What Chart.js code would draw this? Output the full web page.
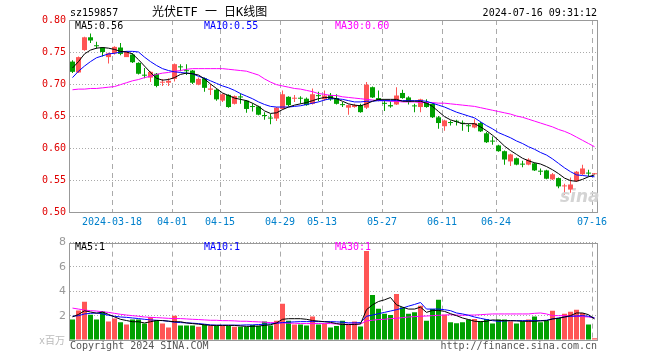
<!DOCTYPE html>
<html><head><meta charset="utf-8">
<script src="https://cdn.jsdelivr.net/npm/chart.js@4.4.1/dist/chart.umd.min.js"></script>
<style>
html,body{margin:0;padding:0;background:#fff;}
#wrap{position:relative;width:660px;height:360px;overflow:hidden;background:#fff;}
canvas{position:absolute;left:0;}
.t{position:absolute;white-space:pre;font-family:"DejaVu Sans Mono",monospace;font-size:10px;line-height:10px;}
</style></head><body>
<div id="wrap">
<canvas id="k" width="660" height="232" style="top:0px"></canvas>
<canvas id="v" width="660" height="128" style="top:232px"></canvas>
<div class="t" style="left:70px;top:8px;color:#000;">sz159857</div>
<div class="t" style="left:152px;top:6px;font-size:12px;line-height:12px;font-family:'DejaVu Sans Mono','Noto Sans CJK SC',sans-serif;color:#000;">光伏ETF 一 日K线图</div>
<div class="t" style="right:63px;top:8px;color:#000;">2024-07-16 09:31:12</div>
<div class="t" style="left:75px;top:21px;color:#000;">MA5:0.56</div>
<div class="t" style="left:204px;top:21px;color:#0000ff;">MA10:0.55</div>
<div class="t" style="left:335px;top:21px;color:#ff00ff;">MA30:0.60</div>
<div class="t" style="left:75px;top:242px;color:#000;">MA5:1</div>
<div class="t" style="left:204px;top:242px;color:#0000ff;">MA10:1</div>
<div class="t" style="left:335px;top:242px;color:#ff00ff;">MA30:1</div>
<div class="t" style="left:39px;top:336px;color:#bbb;font-family:'DejaVu Sans Mono','Noto Sans CJK SC',sans-serif;">x百万</div>
<div class="t" style="left:70px;top:341px;color:#555;">Copyright 2024 SINA.COM</div>
<div class="t" style="right:63px;top:341px;color:#555;">http://finance.sina.com.cn</div>
<div class="t" style="left:560px;top:188px;color:#d4d4d4;font-family:'DejaVu Sans',sans-serif;font-size:17px;line-height:17px;font-style:italic;font-weight:bold;">sina</div>
</div>
<script>
const dateTickIdx = [7,17,25,35,42,52,62,71,87];
const dateTickLabels = ['2024-03-18','04-01','04-15','04-29','05-13','05-27','06-11','06-24','07-16'];
const priceTicks = [0.50,0.55,0.60,0.65,0.70,0.75,0.80];
const volTicks = [0,2,4,6,8];

const opens = [
0.735,0.718,0.753,0.773,0.760,0.757,0.742,0.748,0.757,0.742,
0.746,0.733,0.714,0.710,0.716,0.702,0.702,0.708,0.727,0.721,
0.721,0.699,0.709,0.691,0.691,0.674,0.683,0.669,0.680,0.674,
0.665,0.665,0.651,0.647,0.646,0.661,0.680,0.677,0.678,0.677,
0.669,0.682,0.676,0.683,0.678,0.668,0.663,0.664,0.667,0.663,
0.695,0.678,0.670,0.667,0.668,0.686,0.679,0.666,0.664,0.672,
0.669,0.648,0.634,0.640,0.642,0.639,0.635,0.632,0.639,0.623,
0.611,0.604,0.595,0.579,0.584,0.575,0.574,0.576,0.564,0.565,
0.551,0.553,0.540,0.535,0.548,0.559,0.561,0.559];
const closes = [
0.719,0.742,0.773,0.768,0.759,0.750,0.748,0.758,0.747,0.750,
0.734,0.716,0.713,0.719,0.697,0.703,0.705,0.731,0.726,0.720,
0.702,0.708,0.694,0.693,0.676,0.684,0.664,0.681,0.679,0.661,
0.664,0.652,0.650,0.646,0.663,0.684,0.667,0.678,0.677,0.667,
0.684,0.681,0.682,0.676,0.669,0.667,0.667,0.667,0.656,0.699,
0.679,0.675,0.669,0.665,0.682,0.678,0.672,0.665,0.676,0.664,
0.648,0.639,0.643,0.639,0.641,0.638,0.634,0.639,0.626,0.609,
0.610,0.595,0.582,0.590,0.574,0.574,0.582,0.565,0.563,0.552,
0.559,0.540,0.541,0.543,0.563,0.568,0.560,0.560];
const highs = [
0.737,0.743,0.774,0.779,0.766,0.758,0.749,0.759,0.764,0.751,
0.748,0.734,0.725,0.720,0.717,0.708,0.709,0.732,0.731,0.731,
0.722,0.710,0.710,0.700,0.693,0.685,0.684,0.682,0.685,0.675,
0.670,0.666,0.656,0.653,0.664,0.690,0.681,0.683,0.681,0.679,
0.693,0.688,0.690,0.686,0.684,0.672,0.668,0.669,0.669,0.703,
0.696,0.690,0.676,0.673,0.695,0.691,0.681,0.669,0.677,0.676,
0.670,0.650,0.644,0.643,0.644,0.643,0.638,0.645,0.641,0.625,
0.618,0.605,0.596,0.591,0.585,0.580,0.584,0.577,0.568,0.566,
0.561,0.554,0.544,0.554,0.564,0.574,0.566,0.561];
const lows = [
0.717,0.717,0.752,0.764,0.755,0.743,0.732,0.746,0.745,0.742,
0.733,0.715,0.709,0.703,0.695,0.697,0.697,0.704,0.720,0.714,
0.700,0.698,0.688,0.683,0.674,0.672,0.663,0.668,0.669,0.655,
0.657,0.651,0.644,0.637,0.642,0.660,0.665,0.672,0.669,0.666,
0.668,0.673,0.674,0.674,0.668,0.664,0.652,0.663,0.655,0.661,
0.678,0.673,0.658,0.663,0.667,0.677,0.668,0.656,0.656,0.663,
0.647,0.630,0.627,0.635,0.635,0.627,0.625,0.631,0.625,0.608,
0.605,0.594,0.574,0.572,0.573,0.570,0.573,0.564,0.558,0.551,
0.550,0.537,0.527,0.530,0.547,0.558,0.556,0.559];
const ma5 = [
0.725,0.735,0.747,0.753,0.756,0.757,0.756,0.754,0.751,0.750,
0.747,0.738,0.728,0.718,0.709,0.706,0.707,0.710,0.715,0.717,
0.716,0.714,0.708,0.700,0.693,0.686,0.682,0.678,0.676,0.674,
0.670,0.665,0.658,0.654,0.655,0.660,0.664,0.667,0.669,0.671,
0.674,0.677,0.679,0.679,0.677,0.673,0.669,0.667,0.666,0.669,
0.673,0.676,0.676,0.676,0.676,0.673,0.673,0.673,0.673,0.670,
0.665,0.657,0.649,0.644,0.641,0.638,0.638,0.638,0.633,0.627,
0.620,0.612,0.603,0.596,0.590,0.584,0.580,0.577,0.575,0.571,
0.566,0.560,0.553,0.549,0.548,0.551,0.555,0.558];
const ma10 = [
0.710,0.720,0.728,0.735,0.741,0.744,0.747,0.748,0.750,0.751,
0.751,0.750,0.742,0.735,0.729,0.724,0.721,0.719,0.718,0.717,
0.716,0.712,0.709,0.705,0.701,0.697,0.694,0.690,0.685,0.681,
0.677,0.672,0.668,0.665,0.664,0.664,0.664,0.665,0.666,0.668,
0.670,0.672,0.675,0.677,0.677,0.676,0.674,0.672,0.672,0.673,
0.673,0.674,0.674,0.674,0.674,0.674,0.674,0.674,0.674,0.673,
0.670,0.667,0.664,0.660,0.656,0.653,0.650,0.647,0.641,0.635,
0.630,0.624,0.620,0.616,0.611,0.607,0.602,0.598,0.593,0.589,
0.583,0.576,0.569,0.563,0.558,0.557,0.556,0.555];
const ma30 = [
0.691,0.692,0.692,0.693,0.693,0.694,0.695,0.696,0.699,0.702,
0.705,0.707,0.710,0.712,0.715,0.717,0.718,0.720,0.721,0.723,
0.724,0.724,0.724,0.724,0.724,0.724,0.723,0.722,0.721,0.720,
0.717,0.714,0.708,0.703,0.699,0.697,0.695,0.693,0.692,0.690,
0.688,0.685,0.684,0.682,0.682,0.680,0.679,0.678,0.677,0.676,
0.675,0.674,0.674,0.673,0.673,0.672,0.672,0.672,0.671,0.671,
0.671,0.670,0.670,0.669,0.668,0.667,0.666,0.665,0.663,0.661,
0.659,0.657,0.655,0.653,0.650,0.648,0.645,0.642,0.639,0.636,
0.633,0.629,0.626,0.622,0.617,0.612,0.607,0.602];
const volumes = [
1.68,2.43,3.14,2.08,1.68,2.35,1.51,1.76,1.46,1.27,
1.68,1.68,1.35,1.89,1.62,1.35,1.03,2.00,1.19,1.19,
1.19,1.08,1.27,1.14,1.19,1.19,1.14,1.08,1.08,1.08,
1.24,1.14,1.51,1.19,1.59,2.97,1.59,1.27,1.27,1.19,
1.92,1.27,1.35,1.03,1.14,1.59,1.27,1.51,1.11,7.30,
3.70,2.57,2.16,2.05,3.78,2.68,2.16,2.27,2.81,1.59,
2.54,3.30,2.08,1.46,1.38,1.46,1.68,1.73,1.54,1.73,
1.35,1.68,1.68,1.54,1.35,1.54,1.68,1.92,1.46,1.59,
2.41,1.81,2.16,2.32,2.49,2.22,1.27,0.14];
const volMa5 = [
1.90,2.10,2.40,2.30,2.20,2.30,2.10,1.90,1.70,1.60,
1.50,1.50,1.40,1.50,1.60,1.60,1.55,1.50,1.50,1.40,
1.35,1.30,1.25,1.20,1.20,1.20,1.20,1.20,1.15,1.12,
1.12,1.15,1.20,1.25,1.40,1.70,1.75,1.75,1.75,1.70,
1.60,1.55,1.50,1.45,1.35,1.27,1.27,1.27,1.32,2.49,
2.89,3.16,3.30,3.49,2.89,2.70,2.54,2.54,2.70,2.27,
2.43,2.43,2.35,2.16,2.00,1.81,1.68,1.54,1.51,1.54,
1.65,1.62,1.59,1.59,1.57,1.54,1.54,1.54,1.57,1.59,
1.73,1.78,1.89,2.00,2.22,2.22,2.08,1.73];
const volMa10 = [
1.95,2.00,2.14,2.19,2.22,2.14,2.03,1.95,1.89,1.86,
1.81,1.76,1.70,1.65,1.62,1.59,1.54,1.46,1.43,1.41,
1.38,1.35,1.30,1.24,1.22,1.22,1.22,1.22,1.22,1.24,
1.24,1.27,1.30,1.32,1.38,1.43,1.46,1.49,1.51,1.51,
1.51,1.51,1.51,1.51,1.49,1.46,1.41,1.41,1.43,1.95,
2.05,2.16,2.27,2.38,2.49,2.62,2.78,2.92,3.08,2.54,
2.54,2.54,2.49,2.41,2.22,2.14,2.03,1.89,1.78,1.68,
1.59,1.54,1.57,1.59,1.59,1.59,1.59,1.59,1.59,1.62,
1.73,1.81,1.89,1.95,1.97,2.00,1.95,1.81];
const volMa30 = [
2.62,2.54,2.46,2.41,2.38,2.32,2.27,2.19,2.11,2.05,
2.00,1.95,1.89,1.86,1.84,1.81,1.78,1.76,1.76,1.73,
1.70,1.68,1.65,1.62,1.62,1.59,1.59,1.57,1.54,1.54,
1.51,1.49,1.46,1.43,1.41,1.41,1.38,1.38,1.35,1.35,
1.35,1.35,1.35,1.35,1.32,1.30,1.30,1.30,1.32,1.57,
1.62,1.68,1.70,1.76,1.78,1.84,1.89,1.92,1.95,1.97,
2.00,2.03,2.05,2.08,2.05,2.03,2.05,2.05,2.08,2.11,
2.14,2.14,2.14,2.14,2.14,2.14,2.14,2.19,2.22,2.14,
2.00,2.00,2.00,1.97,1.95,1.92,1.89,1.81];

const N = closes.length;
const idx = Array.from({length: N}, (_, i) => i);
const RED = '#ff5555', GREEN = '#00a000';
const colors = idx.map(i => closes[i] >= opens[i] ? RED : GREEN);
const OFF = 5/12; // shifts slot centres so 5px bodies land on whole pixels
const MONO = {family: 'DejaVu Sans Mono', size: 10};

const frame = {
  id: 'frame',
  afterDatasetsDraw(c, a, o) {
    const ctx = c.ctx, ca = c.chartArea;
    ctx.save();
    ctx.strokeStyle = '#999';
    ctx.lineWidth = 1;
    ctx.setLineDash([]);
    ctx.strokeRect(Math.round(ca.left) - 0.5, Math.round(ca.top) + 0.5, Math.round(ca.right - ca.left), Math.round(ca.bottom - ca.top));
    ctx.restore();
  }
};

function xScale(showLabels) {
  return {
    type: 'linear', min: -OFF, max: N - OFF, offset: false,
    afterBuildTicks(s) { s.ticks = dateTickIdx.map(d => ({value: d - OFF})); },
    ticks: {display: showLabels, autoSkip: false, maxRotation: 0, minRotation: 0, color: '#0080cc', font: MONO, padding: 4,
      callback: (v, i) => dateTickLabels[i]},
    grid: {color: '#aaa', lineWidth: 1, drawTicks: false, offset: false},
    border: {display: false, dash: [5, 4]},
    afterFit(s) { s.height = 20; }
  };
}
function line(data, color) {
  return {type: 'line', data: idx.map(i => ({x: i, y: data[i]})), borderColor: color, borderWidth: 1,
    pointRadius: 0, tension: 0, order: 0};
}

new Chart(document.getElementById('k'), {
  type: 'bar',
  data: {datasets: [
    line(ma5, '#000000'), line(ma10, '#0000ff'), line(ma30, '#ff00ff'),
    {type: 'bar', data: idx.map(i => ({x: i, y: [lows[i], highs[i]]})), backgroundColor: colors,
      barThickness: 1, grouped: false, inflateAmount: 0, borderWidth: 0, order: 2},
    {type: 'bar', data: idx.map(i => ({x: i, y: [opens[i], closes[i]]})), backgroundColor: colors,
      barThickness: 5, minBarLength: 1, grouped: false, inflateAmount: 0, borderWidth: 0, order: 1}
  ]},
  options: {
    responsive: false, animation: false, events: [],
    layout: {padding: {top: 20, right: 62, left: 0, bottom: 0}},
    plugins: {legend: {display: false}, tooltip: {enabled: false}},
    scales: {
      x: xScale(true),
      y: {type: 'linear', min: 0.5, max: 0.8,
        afterBuildTicks(s) { s.ticks = priceTicks.map(v => ({value: v})); },
        ticks: {color: '#e00000', font: MONO, padding: 4, callback: v => v.toFixed(2)},
        grid: {color: '#aaa', lineWidth: 1, drawTicks: false},
        border: {display: false, dash: [1, 2]},
        afterFit(s) { s.width = 70; }}
    }
  },
  plugins: [frame]
});

new Chart(document.getElementById('v'), {
  type: 'bar',
  data: {datasets: [
    line(volMa5, '#000000'), line(volMa10, '#0000ff'), line(volMa30, '#ff00ff'),
    {type: 'bar', data: idx.map(i => ({x: i, y: volumes[i]})), backgroundColor: colors,
      barThickness: 5, grouped: false, inflateAmount: 0, borderWidth: 0, order: 1}
  ]},
  options: {
    responsive: false, animation: false, events: [],
    layout: {padding: {top: 9, right: 62, left: 0, bottom: 0}},
    plugins: {legend: {display: false}, tooltip: {enabled: false}},
    scales: {
      x: xScale(false),
      y: {type: 'linear', min: 0, max: 8,
        afterBuildTicks(s) { s.ticks = volTicks.map(v => ({value: v})); },
        ticks: {color: '#999', font: {family: 'DejaVu Sans', size: 11}, padding: 4, callback: v => v === 0 ? '' : String(v)},
        grid: {color: '#aaa', lineWidth: 1, drawTicks: false},
        border: {display: false, dash: [1, 2]},
        afterFit(s) { s.width = 70; }}
    }
  },
  plugins: [frame]
});
</script>
</body></html>
